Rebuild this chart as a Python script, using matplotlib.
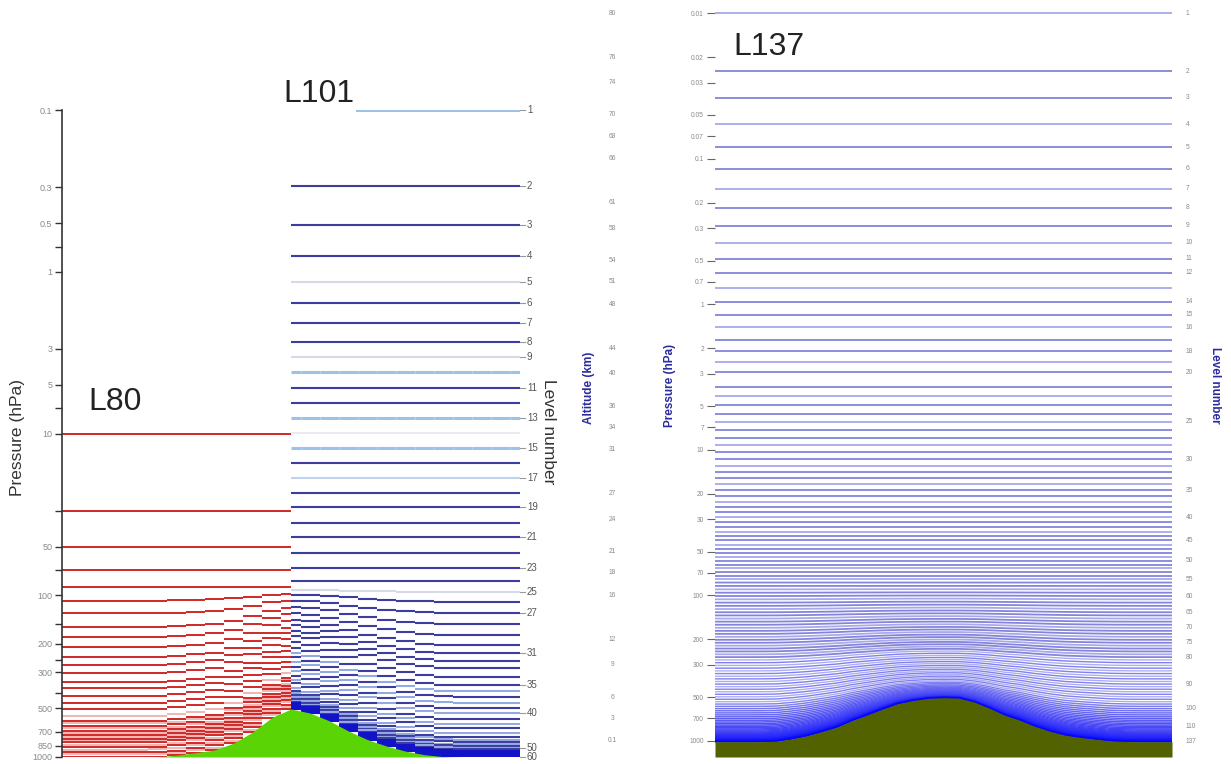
import numpy as np
import matplotlib
matplotlib.use("Agg")
import matplotlib.pyplot as plt
from matplotlib.ticker import FixedLocator, NullFormatter
from matplotlib.colors import to_rgb

plt.rcParams['font.family'] = ['Liberation Sans', 'DejaVu Sans']

# ---------------- data ----------------
# left panel: surface pressure (hPa) across 25 columns (L80 left half, L101 right half)
ps_left = [1000, 1000, 1000, 1000, 1000, 998, 975, 940, 905, 820, 700, 570, 505,
           535, 597, 690, 780, 855, 920, 968, 995, 1000, 1000, 1000, 1000]

# L80 model levels (reference pressure, hPa), darker lines and fainter in-between lines
l80_levels = [10, 30, 50, 70, 89, 108, 129, 157, 181, 210, 242, 270, 302, 346, 377,
              418, 462, 505, 600, 640, 690, 730, 770, 810, 870, 935, 1000]
l80_faint_levels = [555, 620, 665, 710, 750, 790, 840, 900, 965]

# L101 model levels (reference pressure, hPa), level 1 .. 60 as visible
l101_levels = [0.1, 0.295, 0.514, 0.80, 1.16, 1.56, 2.07, 2.72, 3.37, 4.17,
               5.24, 6.48, 8.0, 9.9, 12.3, 15.2, 18.8, 23.3, 28.5, 35.7,
               43.6, 54.8, 67.9, 81.7, 95.5, 110, 129, 151, 176, 203,
               228, 255, 282, 320, 359, 390, 424, 461, 500, 535,
               582, 625, 662, 711, 752, 780, 805, 830, 853, 875,
               895, 913, 929, 943, 955, 966, 976, 985, 993, 1000]
l101_labels = [1, 2, 3, 4, 5, 6, 7, 8, 9, 11, 13, 15, 17, 19, 21, 23, 25, 27, 31, 35, 40, 50, 60]

left_ticks = [0.1, 0.3, 0.5, 1, 3, 5, 10, 50, 100, 200, 300, 500, 700, 850, 1000]
left_ticklabels = ['0.1', '0.3', '0.5', '1', '3', '5', '10', '50', '100', '200', '300',
                   '500', '700', '850', '1000']
left_minor = [0.7, 7, 30, 70, 150, 250, 400]

# right panel: surface pressure across 31 columns
ps_right = [1013, 1013, 1013, 1012, 1005, 970, 925, 865, 805, 725, 664, 605, 555, 528,
            510, 505, 508, 540, 595, 665, 720, 795, 860, 915, 948, 975, 1000, 1010,
            1013, 1013, 1013]

l137_levels = [0.01, 0.025, 0.038, 0.058, 0.083, 0.117, 0.161, 0.217, 0.289, 0.378,
               0.487, 0.609, 0.768, 0.96, 1.18, 1.44, 1.75, 2.10, 2.50, 2.94,
               3.69, 4.28, 4.93, 5.64, 6.43, 7.30, 8.24, 9.26, 10.37, 11.57,
               12.86, 14.24, 15.72, 17.29, 18.98, 20.76, 22.65, 24.66, 26.77, 29.00,
               31.35, 33.82, 36.40, 39.11, 41.95, 44.91, 47.99, 51.20, 54.53, 57.98,
               61.56, 65.27, 69.12, 73.12, 77.28, 81.62, 86.15, 90.88, 95.83, 101.0,
               106.4, 112.1, 118.0, 124.1, 130.6, 137.3, 144.3, 151.5, 159.1, 167.0,
               175.3, 183.8, 192.7, 202.0, 211.6, 221.6, 232.0, 242.8, 254.0, 265.6,
               277.6, 290.1, 303.0, 316.4, 330.2, 344.6, 359.4, 374.8, 390.6, 407.1,
               424.0, 441.5, 459.6, 478.3, 497.6, 517.4, 537.7, 558.3, 579.2, 600.2,
               621.2, 642.1, 662.8, 683.3, 703.3, 723.0, 742.1, 760.6, 778.5, 795.6,
               812.1, 827.8, 842.7, 856.8, 870.2, 882.8, 894.6, 905.7, 916.1, 925.8,
               934.8, 943.1, 950.9, 958.1, 964.8, 970.9, 976.6, 981.8, 986.6, 991.0,
               995.1, 998.8, 1002.2, 1005.4, 1008.2, 1010.8, 1013.3]
l137_labels = [1, 2, 3, 4, 5, 6, 7, 8, 9, 10, 11, 12, 14, 15, 16, 18, 20, 25, 30, 35,
               40, 45, 50, 55, 60, 65, 70, 75, 80, 90, 100, 110, 137]

right_ticks = [0.01, 0.02, 0.03, 0.05, 0.07, 0.1, 0.2, 0.3, 0.5, 0.7, 1, 2, 3, 5, 7,
               10, 20, 30, 50, 70, 100, 200, 300, 500, 700, 1000]
right_ticklabels = ['0.01', '0.02', '0.03', '0.05', '0.07', '0.1', '0.2', '0.3', '0.5',
                    '0.7', '1', '2', '3', '5', '7', '10', '20', '30', '50', '70', '100',
                    '200', '300', '500', '700', '1000']
altitude_km = ['80', '76', '74', '70', '68', '66', '61', '58', '54', '51', '48', '44',
               '40', '36', '34', '31', '27', '24', '21', '18', '16', '12', '9', '6', '3', '0.1']


def level_p(p_ref, ps, p0, p_top, power=1.0):
    # hybrid sigma-pressure: flat above p_top, terrain following below
    b = np.clip((p_ref - p_top) / (p0 - p_top), 0, 1) ** power
    return p_ref + b * (np.asarray(ps, dtype=float) - p0)


def stair(ax, x, p, dx, x0, x1, **kw):
    # one horizontal segment per terrain column, like the gridded original
    lo = np.clip(x - dx / 2, x0, x1)
    hi = np.clip(x + dx / 2, x0, x1)
    ax.hlines(p, lo, hi, **kw)


W, H = 1231, 764
fig = plt.figure(figsize=(W / 100, H / 100), dpi=100)
fig.patch.set_facecolor('white')

# ---------------- left panel: L80 / L101 ----------------
ax1 = fig.add_axes([62 / W, 7 / H, 458 / W, 647 / H])
ax1.set_yscale('log')
ax1.set_ylim(1000, 0.1)
ax1.set_xlim(0, 1)
xl = np.linspace(0, 1, len(ps_left))
dxl = xl[1] - xl[0]
half = len(ps_left) // 2

for p in l80_faint_levels:
    stair(ax1, xl[:half + 1], level_p(p, ps_left[:half + 1], 1000, 90), dxl, 0, 0.5,
          color='#efb0b0', lw=1.3, zorder=1)
for p in l80_levels:
    stair(ax1, xl[:half + 1], level_p(p, ps_left[:half + 1], 1000, 90), dxl, 0, 0.5,
          color='#d02828', lw=1.4, zorder=2)

NAVY, LB, GR, FAINT, DEEP = '#3d3da0', '#9cc3e6', '#d6dae8', '#e8eaf2', '#1212c8'
l101_colors = {1: LB, 5: GR, 9: GR, 10: LB, 13: LB, 14: FAINT, 15: LB, 17: '#bcd2ee', 25: GR}
for n, p in enumerate(l101_levels, start=1):
    if n in l101_colors:
        c = l101_colors[n]
    elif n >= 52:
        c = DEEP
    elif n >= 36:
        c = NAVY if n % 2 else '#93abe2'
    else:
        c = NAVY
    lw = 2.2 if c == LB else 1.5
    if n == 1:
        ax1.plot([0.645, 1.0], [p, p], color=c, lw=lw, zorder=2)
        continue
    stair(ax1, xl[half:], level_p(p, ps_left[half:], 1000, 90), dxl, 0.5, 1.0,
          color=c, lw=lw, zorder=2)

ax1.fill_between(xl, ps_left, 1000, color='#5ad404', lw=0, zorder=3)

for n in l101_labels:
    p = l101_levels[n - 1]
    ax1.plot([1.0, 1.012], [p, p], color='#999999', lw=0.8,
             transform=ax1.get_yaxis_transform(), clip_on=False)
    ax1.text(1.015, p, str(n), transform=ax1.get_yaxis_transform(), fontsize=7,
             color='#555555', va='center', ha='left')

for s in ['top', 'right', 'bottom']:
    ax1.spines[s].set_visible(False)
ax1.spines['left'].set_color('#333333')
ax1.spines['left'].set_linewidth(1.2)
ax1.set_xticks([])
ax1.yaxis.set_major_locator(FixedLocator(left_ticks))
ax1.set_yticklabels(left_ticklabels)
ax1.yaxis.set_minor_locator(FixedLocator(left_minor))
ax1.yaxis.set_minor_formatter(NullFormatter())
ax1.tick_params(axis='y', which='major', length=5, width=1, colors='#333333',
                labelcolor='#8a8a8a', labelsize=6.5, pad=2)
ax1.tick_params(axis='y', which='minor', length=5, width=1, colors='#333333')

# ---------------- right panel: L137 ----------------
ax2 = fig.add_axes([715 / W, 7 / H, 457 / W, 745 / H])
ax2.set_yscale('log')
ax2.set_ylim(1290, 0.0098)
ax2.set_xlim(0, 1)
xr = np.linspace(0, 1, len(ps_right))

top_rgb = np.array(to_rgb('#8484dc'))
mid_rgb = np.array(to_rgb('#8080f0'))
bot_rgb = np.array(to_rgb('#0505ff'))
nlev = len(l137_levels)
for k, p in enumerate(l137_levels):
    if k < 80:
        c = top_rgb if k % 3 else np.array(to_rgb('#a8a8ea'))
        lw = 1.3
    elif k < 98:
        c = mid_rgb if k % 2 else np.array(to_rgb('#adadf4'))
        lw = 1.0
    else:
        t = ((k - 98) / (nlev - 1 - 98)) ** 0.7
        c = mid_rgb * (1 - t) + bot_rgb * t
        lw = 1.1
    ax2.plot(xr, level_p(p, ps_right, 1013.25, 80, 1.7), color=c, lw=lw, zorder=2)

ax2.fill_between(xr, ps_right, 1290, color='#526200', lw=0, zorder=3)

for n in l137_labels:
    p = l137_levels[n - 1]
    ax2.text(1.03, p, str(n), transform=ax2.get_yaxis_transform(), fontsize=4.8,
             color='#8a8a8a', va='center', ha='left')
for p, a in zip(right_ticks, altitude_km):
    ax2.text(-0.225, p, a, transform=ax2.get_yaxis_transform(), fontsize=4.8,
             color='#8a8a8a', va='center', ha='center')

for s in ['top', 'right', 'bottom', 'left']:
    ax2.spines[s].set_visible(False)
ax2.set_xticks([])
ax2.yaxis.set_major_locator(FixedLocator(right_ticks))
ax2.set_yticklabels(right_ticklabels)
ax2.yaxis.set_minor_locator(FixedLocator([]))
ax2.tick_params(axis='y', which='major', length=6, width=0.8, colors='#666666',
                labelcolor='#8a8a8a', labelsize=4.8, pad=2)

# ---------------- text ----------------
def ftext(x, y, s, **kw):
    fig.text(x / W, 1 - y / H, s, **kw)

ftext(88, 410, 'L80', fontsize=23, color='#222222', va='baseline')
ftext(283, 102, 'L101', fontsize=23, color='#222222', va='baseline')
ftext(733, 55, 'L137', fontsize=23, color='#222222', va='baseline')
ftext(18, 437, 'Pressure (hPa)', fontsize=12.5, color='#333333', rotation=90,
      ha='center', va='center')
ftext(548, 432, 'Level number', fontsize=12.5, color='#333333', rotation=270,
      ha='center', va='center')
ftext(670, 385, 'Pressure (hPa)', fontsize=8.5, color='#2c2ca0', rotation=90,
      ha='center', va='center', fontweight='bold')
ftext(589, 388, 'Altitude (km)', fontsize=8.5, color='#2c2ca0', rotation=90,
      ha='center', va='center', fontweight='bold')
ftext(1215, 385, 'Level number', fontsize=8.5, color='#2c2ca0', rotation=270,
      ha='center', va='center', fontweight='bold')

fig.savefig('out.png', dpi=100, facecolor='white')
